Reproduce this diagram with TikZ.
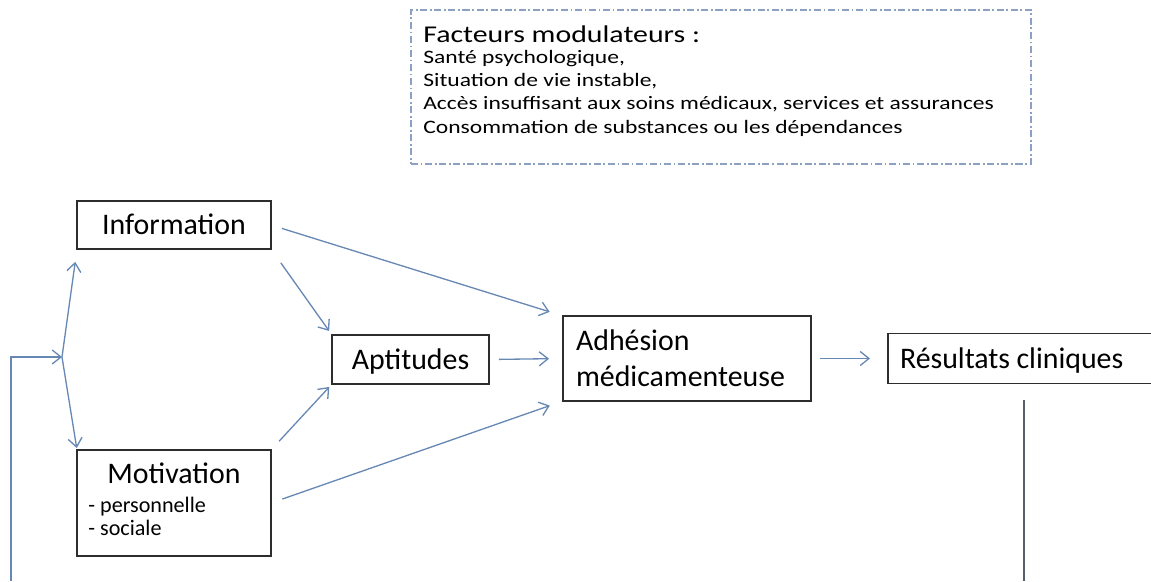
\documentclass[tikz,border=0pt]{standalone}
\usepackage{graphicx}
\usepackage{fontspec}
\setmainfont{Carlito}
\usetikzlibrary{arrows.meta}

\definecolor{arrowblue}{RGB}{104,136,180}
\definecolor{boxgrey}{RGB}{45,45,45}
\definecolor{dashblue}{RGB}{140,160,195}
\definecolor{loopgrey}{RGB}{85,95,110}

% the text of the dashed box is a bit wider than high
\newcommand{\widen}[1]{\scalebox{1.24}[1]{#1}}

\begin{document}
\begin{tikzpicture}[x=0.02cm, y=-0.02cm,
        >={Straight Barb[length=5pt,width=8pt]},
        box/.style={draw=boxgrey, line width=0.9pt, outer sep=0pt, inner sep=0pt,
            font=\fontsize{17}{20.4}\selectfont},
        link/.style={->, draw=arrowblue, line width=0.75pt},
        sub/.style={inner sep=0pt, anchor=base west, font=\fontsize{12.6}{15}\selectfont},
        modline/.style={inner sep=0pt, anchor=base west, font=\fontsize{10.8}{13}\selectfont}]

        \useasboundingbox (0,0) rectangle (1151,581);

        % the dashed box with the modulating factors
        \node[draw=dashblue, line width=0.7pt, dash pattern=on 4pt off 1.5pt on 1pt off 1.5pt,
            outer sep=0pt, minimum width=12.4cm, minimum height=3.08cm] (mod) at (721,87) {};
        \node[modline, font=\fontsize{13.7}{16}\selectfont] (modT) at (423,43) {\widen{Facteurs modulateurs :}};
        \node[modline] (mod1) at (423,64) {\widen{Santé psychologique,}};
        \node[modline] (mod2) at (423,87) {\widen{Situation de vie instable,}};
        \node[modline] (mod3) at (423,110) {\widen{Accès insuffisant aux soins médicaux, services et assurances}};
        \node[modline] (mod4) at (423,133) {\widen{Consommation de substances ou les dépendances}};

        % the boxes
        \node[box, minimum width=3.88cm, minimum height=0.96cm, text height=11pt, text depth=0pt] (info) at (174,225) {Information};
        \node[box, minimum width=3.88cm, minimum height=2.12cm] (motiv) at (174,503) {};
        \node[anchor=base, inner sep=0pt, font=\fontsize{17}{20.4}\selectfont] (motivT) at (174,483) {Motivation};
        \node[sub] (motivP) at (88,512) {- personnelle};
        \node[sub] (motivS) at (88,535) {- sociale};
        \node[box, minimum width=3.14cm, minimum height=0.98cm, text height=11pt, text depth=0pt] (apt) at (410.5,359.5) {Aptitudes};
        \node[box, minimum width=4.96cm, minimum height=1.7cm, text width=4.44cm, align=left] (adh) at (687,358.5) {Adhésion\\médicamenteuse};
        \node[box, minimum width=5.44cm, minimum height=1.0cm, text width=4.96cm, align=left, text height=11pt, text depth=0pt] (res) at (1024,358.5) {Résultats\hspace{-0.12em} cliniques};

        % the points of the feedback loop
        \coordinate (split) at (62,357);
        \coordinate (loopL) at (11,581);
        \coordinate (loopR) at (1024,581);

        % draw the arrows
        \draw[link, shorten <=0.23cm, shorten >=0.28cm] (info.east) -- (adh.north west);
        \draw[link, shorten <=0.34cm, shorten >=0.1cm] (info.south east) -- (apt.north west);
        \draw[link, shorten <=0.24cm, shorten >=0.08cm] (motiv.north east) -- (apt.south west);
        \draw[link, shorten <=0.24cm, shorten >=0.28cm] (motiv.east) -- (adh.south west);
        \draw[link, shorten <=0.2cm, shorten >=0.28cm] (apt.east) -- (adh.west);
        \draw[link, shorten <=0.18cm, shorten >=0.36cm] (adh.east) -- (res.west);

        % the feedback loop
        \draw[draw=loopgrey, line width=0.75pt, shorten <=0.34cm] (res.south) -- (loopR);
        \draw[link] (loopL) |- (split);
        \draw[link, shorten >=0.26cm] (split) -- (info.south west);
        \draw[link, shorten >=0.04cm] (split) -- (motiv.north west);

\end{tikzpicture}
\end{document}
